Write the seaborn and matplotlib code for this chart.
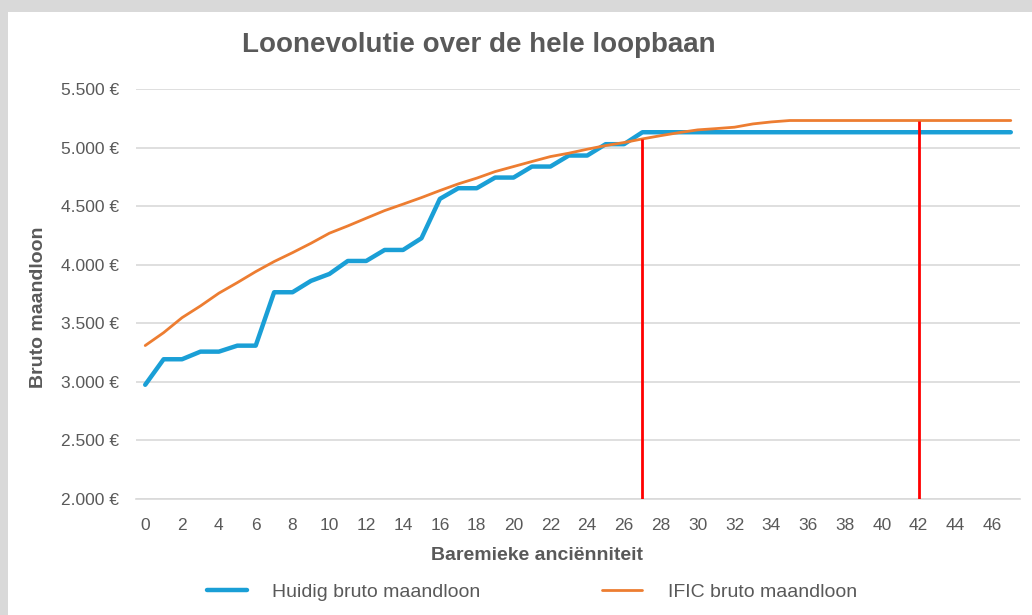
import matplotlib
matplotlib.use("Agg")
import matplotlib.pyplot as plt
import matplotlib.patches as patches
from matplotlib.ticker import FuncFormatter, MultipleLocator
import pandas as pd
import seaborn as sns

# Data
anciënniteit = list(range(48))
huidig = [2975, 3193, 3193, 3258, 3258, 3309, 3309, 3765, 3765, 3862,
          3921, 4032, 4032, 4126, 4126, 4226, 4562, 4653, 4653, 4744,
          4744, 4838, 4838, 4932, 4932, 5029, 5029] + [5131] * 21
ific = [3310, 3420, 3548, 3648, 3757, 3847, 3941, 4027, 4103, 4183,
        4269, 4331, 4397, 4462, 4517, 4573, 4633, 4690, 4739, 4795,
        4838, 4881, 4923, 4952, 4986, 5017, 5043, 5074, 5102, 5128,
        5151, 5162, 5174, 5202, 5219] + [5231] * 13
markers_x = [27, 42]

data = pd.DataFrame({"Anciënniteit": anciënniteit,
                     "Huidig bruto maandloon": huidig,
                     "IFIC bruto maandloon": ific})

sns.set_theme(style="white")
plt.rcParams["font.family"] = ["Liberation Sans", "DejaVu Sans"]
grey = "#595959"

fig = plt.figure(figsize=(10.32, 6.15), dpi=100, facecolor="#d9d9d9")
# white chart area inside the grey screenshot border
fig.patches.append(patches.Rectangle((8 / 1032, 0), 1, 1 - 12 / 615,
                                     transform=fig.transFigure,
                                     facecolor="white", edgecolor="none", zorder=-1))
ax = fig.add_axes([136 / 1032, 1 - 499 / 615, (1020 - 136) / 1032, (499 - 89) / 615])
ax.set_facecolor("white")

sns.lineplot(data=data, x="Anciënniteit", y="Huidig bruto maandloon", ax=ax,
             color="#1a9fd6", linewidth=3.2, label="Huidig bruto maandloon", zorder=3)
sns.lineplot(data=data, x="Anciënniteit", y="IFIC bruto maandloon", ax=ax,
             color="#ed7d31", linewidth=2.0, label="IFIC bruto maandloon", zorder=4)

# red vertical markers up to the IFIC curve
for mx in markers_x:
    ax.vlines(mx, 2000, ific[mx], color="#ff0000", linewidth=2.0, zorder=5)

ax.set_xlim(-0.5, 47.5)
ax.set_ylim(2000, 5500)
ax.yaxis.set_major_locator(MultipleLocator(500))
ax.xaxis.set_major_locator(MultipleLocator(2))
ax.yaxis.set_major_formatter(FuncFormatter(lambda v, p: f"{int(v):,} €".replace(",", ".")))
ax.grid(axis="y", color="#d9d9d9", linewidth=1.2)
ax.grid(axis="x", visible=False)
for side in ["top", "right", "left"]:
    ax.spines[side].set_visible(False)
ax.spines["bottom"].set_color("#d9d9d9")
ax.spines["bottom"].set_linewidth(1.2)
ax.tick_params(axis="both", colors=grey, labelsize=12.5, length=0)
ax.tick_params(axis="y", pad=12)
ax.tick_params(axis="x", pad=14)
ax.set_xlabel("")
ax.set_ylabel("")

fig.text(479 / 1032, 1 - 45 / 615, "Loonevolutie over de hele loopbaan",
         ha="center", va="center", fontsize=20, fontweight="bold", color=grey)
fig.text(537 / 1032, 1 - 555 / 615, "Baremieke anciënniteit", ha="center", va="center",
         fontsize=14, fontweight="bold", color=grey)
fig.text(39 / 1032, 1 - 307 / 615, "Bruto maandloon", ha="center", va="center",
         rotation=90, fontsize=14, fontweight="bold", color=grey)

ax.get_legend().remove()
handles, labels = ax.get_legend_handles_labels()
fig.legend(handles, labels, loc="center", bbox_to_anchor=(532 / 1032, 1 - 592 / 615),
           ncol=2, frameon=False, fontsize=14, handlelength=2.06, handletextpad=1.29,
           columnspacing=6.26, labelcolor=grey)

fig.savefig("out.png", dpi=100, facecolor=fig.get_facecolor())
